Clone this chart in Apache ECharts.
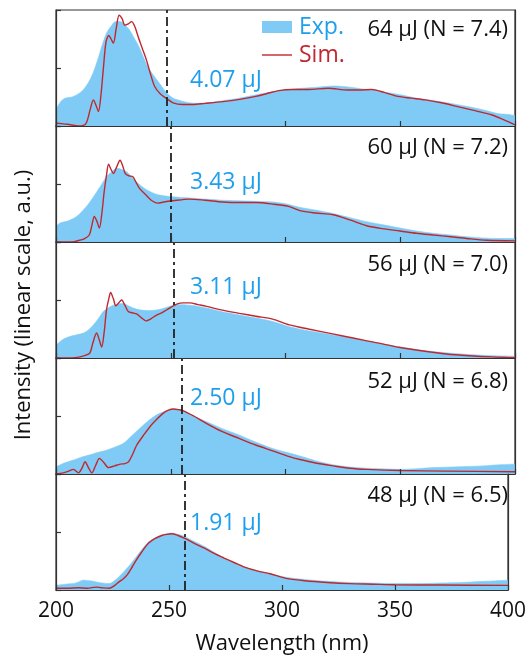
<!DOCTYPE html>
<html>
<head>
<meta charset="utf-8">
<script src="https://cdn.jsdelivr.net/npm/echarts@6/dist/echarts.min.js"></script>
<style>html,body{margin:0;padding:0;background:#fff}#c{width:529px;height:657px}</style>
</head>
<body>
<div id="c"></div>
<script>
// ---------- data ----------
const pulseLabels = ['64 μJ (N = 7.4)', '60 μJ (N = 7.2)', '56 μJ (N = 7.0)', '52 μJ (N = 6.8)', '48 μJ (N = 6.5)'];
const energyLabels = ['4.07 μJ', '3.43 μJ', '3.11 μJ', '2.50 μJ', '1.91 μJ'];
const dashWavelengths = [248.2, 250.1, 251.1, 254.8, 256.9];
const xTicks = [200, 250, 300, 350, 400];

// Panel 1 (64 μJ)
const expWl1 = [200,202,204,207,210,212,214,216,218,220,222,224,226,228,230,232,234,236,238,240,242,245,248,251,254,258,262,268,275,280,285,290,295,300,307,314,321,328,335,342,350,357,364,372,380,386,393,397,400];
const expVal1 = [0.28,0.42,0.48,0.50,0.56,0.63,0.74,0.90,1.12,1.38,1.60,1.72,1.80,1.80,1.74,1.66,1.52,1.38,1.20,1.02,0.90,0.74,0.58,0.48,0.44,0.40,0.39,0.41,0.45,0.48,0.52,0.56,0.59,0.62,0.65,0.67,0.69,0.67,0.63,0.59,0.54,0.48,0.44,0.39,0.33,0.28,0.21,0.20,0.18];
const simWl1 = [200,205,210,213,215,216.3,217.5,218.5,219.5,220.7,221.8,223,224,225,226.3,227.5,228.8,230,231.5,232.9,234.3,235.8,237.5,239.4,241,243,245.5,248,251,255,259.5,265,272.6,280,287,292,297,303,310,318.6,327,332,337.5,343,349,355,361,368,375.5,383,390,395,400];
const simVal1 = [0.05,0.03,0.00,0.04,0.30,0.45,0.35,0.25,0.50,1.02,1.45,1.56,1.50,1.43,1.70,1.91,1.85,1.74,1.76,1.80,1.72,1.54,1.35,1.14,0.92,0.68,0.55,0.48,0.40,0.37,0.37,0.39,0.42,0.46,0.51,0.56,0.61,0.63,0.63,0.65,0.62,0.62,0.63,0.58,0.51,0.48,0.45,0.40,0.33,0.26,0.19,0.11,0.02];

// Panel 2 (60 μJ)
const expWl2 = [200,202,205,209,213,216,218,220,222,224,226.4,228,230.8,233,235,237,239.5,242,245,250.8,258,265,272.6,280,288,294.5,300,306,313,320.8,328,335.4,342,350,357,364.4,372,379,386,393.5,400];
const expVal2 = [0.27,0.33,0.36,0.44,0.60,0.76,0.88,1.00,1.13,1.20,1.27,1.26,1.21,1.12,1.04,0.97,0.90,0.85,0.81,0.78,0.76,0.74,0.72,0.71,0.70,0.69,0.66,0.60,0.55,0.49,0.42,0.35,0.30,0.24,0.19,0.15,0.12,0.09,0.07,0.06,0.06];
const simWl2 = [200,207,210.2,212.5,214.5,215.7,216.7,217.8,218.9,220,221,222,222.9,224,225,226.5,227.9,229,230.2,231.8,233.4,235,236.3,239.2,241.5,244.3,247,250.8,258.1,265,272.6,280,287.2,295,301.7,306.3,313,320.8,328,335.4,342,349.9,357,364.4,372,379,387.7,400];
const simVal2 = [0.00,0.00,0.03,0.06,0.12,0.30,0.44,0.36,0.24,0.50,0.87,1.15,1.34,1.25,1.18,1.30,1.41,1.32,1.18,1.14,1.13,1.02,0.93,0.81,0.72,0.67,0.69,0.71,0.74,0.72,0.69,0.68,0.68,0.65,0.61,0.54,0.50,0.47,0.38,0.28,0.23,0.19,0.15,0.12,0.09,0.06,0.03,0.02];

// Panel 3 (56 μJ)
const expWl3 = [200,203,206,209,212,214,216.3,218.5,220.6,223,225,227,229.4,231.5,233.7,236.5,239.5,242,245.3,248,251.1,255,258.3,262,265.6,272,280,287,294.4,301.7,310,320,330,340,350,360,370,380,390,400];
const expVal3 = [0.22,0.32,0.37,0.40,0.43,0.48,0.57,0.68,0.80,0.87,0.91,0.93,0.94,0.90,0.86,0.83,0.82,0.82,0.84,0.87,0.91,0.92,0.91,0.89,0.86,0.80,0.74,0.69,0.63,0.54,0.47,0.40,0.33,0.26,0.19,0.13,0.09,0.06,0.04,0.03];
const simWl3 = [200,207,210.5,213,214.8,216,217.7,218.8,219.9,221,222,223,223.8,225,226.1,227.3,228.6,230,231.5,233.3,235.1,237,239.2,241.5,243.8,246,248.2,250.4,252.6,255.5,258.3,262,265.6,272,280,287,294.4,301.7,310,320,330,340,350,360,370,380,390,400];
const simVal3 = [0.00,0.00,0.02,0.05,0.09,0.25,0.43,0.32,0.19,0.45,0.83,1.02,1.13,1.02,0.90,0.95,1.00,0.91,0.80,0.78,0.76,0.70,0.64,0.68,0.74,0.78,0.83,0.88,0.93,0.95,0.95,0.92,0.89,0.83,0.77,0.72,0.67,0.57,0.50,0.42,0.34,0.26,0.18,0.12,0.07,0.04,0.02,0.01];

// Panel 4 (52 μJ)
const expWl4 = [200,203,207.6,211,214.8,218,222,226,229.4,233,236.6,240,243.9,247.5,251.1,254,257,261,265.7,272,280,287,294.4,301.7,306.3,313,320.8,328,335.4,342,350,357,364.4,372,379,386,393.5,400];
const expVal4 = [0.12,0.18,0.24,0.29,0.33,0.37,0.41,0.47,0.53,0.66,0.79,0.91,1.02,1.08,1.12,1.11,1.06,0.98,0.90,0.79,0.67,0.55,0.44,0.36,0.31,0.23,0.16,0.12,0.10,0.09,0.08,0.09,0.11,0.12,0.13,0.14,0.16,0.17];
const simWl4 = [200,203.2,205.5,207.6,209.8,211.3,212.7,214,215.6,217.3,218.9,220.8,222.9,225.5,228,230,231.6,233.5,235.2,238,241,243.8,246.8,249,251.1,253.3,255.5,260,265.7,272,280,287,294.4,301.7,306.3,313,320.8,328,335.4,350,370,400];
const simVal4 = [0.00,0.02,0.05,0.08,0.02,0.10,0.21,0.12,0.02,0.15,0.27,0.20,0.11,0.14,0.17,0.18,0.21,0.35,0.50,0.66,0.82,0.94,1.05,1.10,1.12,1.11,1.09,1.00,0.87,0.74,0.61,0.50,0.40,0.30,0.25,0.19,0.14,0.10,0.08,0.06,0.05,0.04];

// Panel 5 (48 μJ)
const expWl5 = [200,204,207.6,210,212,215,217.7,220.5,223.5,226.5,229.4,232,235.1,238,241,244,246.8,249,251.1,254,257,261,265.7,270,274.4,279,283.1,289,294.7,301.8,310,320,330,340,350,360,370,380,390,400];
const expVal5 = [0.08,0.10,0.11,0.14,0.17,0.16,0.14,0.12,0.11,0.18,0.29,0.40,0.55,0.70,0.83,0.90,0.95,0.97,0.98,0.96,0.92,0.84,0.75,0.65,0.55,0.47,0.40,0.33,0.28,0.22,0.18,0.15,0.13,0.12,0.11,0.11,0.12,0.13,0.15,0.17];
const simWl5 = [200,205,210,214,217.7,220,223.5,226,227.9,229.7,231.5,233.3,235.1,238,241,243.9,246.8,249,251.1,254,257,261,265.7,270,274.4,279,283.1,289,294.7,301.8,310,320,330,340,350,370,400];
const simVal5 = [0.03,0.03,0.04,0.03,0.05,0.04,0.03,0.08,0.14,0.19,0.26,0.37,0.49,0.66,0.81,0.89,0.94,0.96,0.97,0.94,0.89,0.81,0.72,0.63,0.55,0.47,0.40,0.33,0.28,0.20,0.16,0.13,0.11,0.10,0.09,0.085,0.08];

const expWls = [expWl1, expWl2, expWl3, expWl4, expWl5];
const expVals = [expVal1, expVal2, expVal3, expVal4, expVal5];
const simWls = [simWl1, simWl2, simWl3, simWl4, simWl5];
const simVals = [simVal1, simVal2, simVal3, simVal4, simVal5];

// ---------- styling / layout ----------
const FONT = 'Open Sans';
const BLUE_FILL = '#7fcbf6';
const BLUE_TEXT = '#1e9fee';
const RED = '#c0282e';
const AX = '#333';
const panelTop = 10, panelH = 116, left = 56, right = 14;
const energyLabelOffsets = [70, 56, 45, 40, 49];
const pulseLabelOffsets = [20, 22, 23, 23.5, 21.5];

const grids = [], xAxes = [], yAxes = [], series = [], graphics = [];
for (let i = 0; i < 5; i++) {
  const top = panelTop + panelH * i;
  grids.push({left: left, right: right, top: top, height: panelH, show: true, borderColor: AX, borderWidth: 1.2, backgroundColor: 'transparent'});
  xAxes.push({
    gridIndex: i, type: 'value', min: 200, max: 400, interval: 50, z: 10,
    axisLine: {show: true, onZero: false, lineStyle: {color: AX, width: 1.2}},
    axisTick: {show: true, inside: true, length: 5, lineStyle: {color: AX, width: 1.2}},
    axisLabel: {show: i === 4, margin: 11, fontFamily: FONT, fontSize: 21, color: '#111'},
    splitLine: {show: false},
    name: i === 4 ? 'Wavelength (nm)' : '', nameLocation: 'middle', nameGap: 43,
    nameTextStyle: {fontFamily: FONT, fontSize: 22, color: '#111'}
  });
  yAxes.push({
    gridIndex: i, type: 'value', min: 0, max: 2, interval: 1, z: 10,
    axisLine: {show: true, onZero: false, lineStyle: {color: AX, width: 1.2}},
    axisTick: {show: true, inside: true, length: 5, lineStyle: {color: AX, width: 1.2}},
    axisLabel: {show: false}, splitLine: {show: false}
  });
  yAxes.push({
    gridIndex: i, type: 'value', min: 0, max: 2, position: 'right', z: 10,
    axisLine: {show: true, onZero: false, lineStyle: {color: AX, width: 1.2}},
    axisTick: {show: false}, axisLabel: {show: false}, splitLine: {show: false}
  });
  series.push({
    name: 'Exp.', type: 'line', xAxisIndex: i, yAxisIndex: 2 * i, z: 2,
    data: expWls[i].map((w, k) => [w, expVals[i][k]]),
    showSymbol: false, symbol: 'none', smooth: 0.3,
    lineStyle: {width: 0.6, color: BLUE_FILL},
    itemStyle: {color: BLUE_FILL},
    areaStyle: {color: BLUE_FILL, opacity: 1, origin: 'start'}
  });
  series.push({
    name: 'Sim.', type: 'line', xAxisIndex: i, yAxisIndex: 2 * i, z: 3,
    data: simWls[i].map((w, k) => [w, simVals[i][k]]),
    showSymbol: false, symbol: 'none', smooth: 0.3,
    lineStyle: {width: 1.4, color: RED},
    itemStyle: {color: RED},
    markLine: {
      silent: true, symbol: ['none', 'none'], label: {show: false}, animation: false,
      lineStyle: {type: [9, 4, 3, 4], color: '#222', width: 1.8},
      data: [{xAxis: dashWavelengths[i]}]
    }
  });
  graphics.push({type: 'text', x: 508, y: top + pulseLabelOffsets[i],
    style: {text: pulseLabels[i], font: '22px "' + FONT + '"', fill: '#111', textAlign: 'right', textVerticalAlign: 'middle'}, z: 20});
  graphics.push({type: 'text', x: 190, y: top + energyLabelOffsets[i],
    style: {text: energyLabels[i], font: '23px "' + FONT + '"', fill: BLUE_TEXT, textAlign: 'left', textVerticalAlign: 'middle'}, z: 20});
}

// legend (drawn as graphics)
graphics.push({type: 'rect', shape: {x: 262, y: 21, width: 30, height: 12}, style: {fill: BLUE_FILL}, z: 20});
graphics.push({type: 'text', x: 299, y: 27, style: {text: 'Exp.', font: '23px "' + FONT + '"', fill: BLUE_TEXT, textVerticalAlign: 'middle'}, z: 20});
graphics.push({type: 'line', shape: {x1: 262, y1: 55, x2: 292, y2: 55}, style: {stroke: RED, lineWidth: 1.4}, z: 20});
graphics.push({type: 'text', x: 299, y: 55, style: {text: 'Sim.', font: '23px "' + FONT + '"', fill: RED, textVerticalAlign: 'middle'}, z: 20});
// y axis title
graphics.push({type: 'text', x: 24, y: 305, rotation: Math.PI / 2,
  style: {text: 'Intensity (linear scale, a.u.)', font: '22px "' + FONT + '"', fill: '#111', textAlign: 'center', textVerticalAlign: 'middle'}, z: 20});

const chart = echarts.init(document.getElementById('c'), null, {renderer: 'canvas'});
chart.setOption({
  animation: false,
  backgroundColor: '#fff',
  grid: grids, xAxis: xAxes, yAxis: yAxes, series: series, graphic: graphics
});
</script>
</body>
</html>
